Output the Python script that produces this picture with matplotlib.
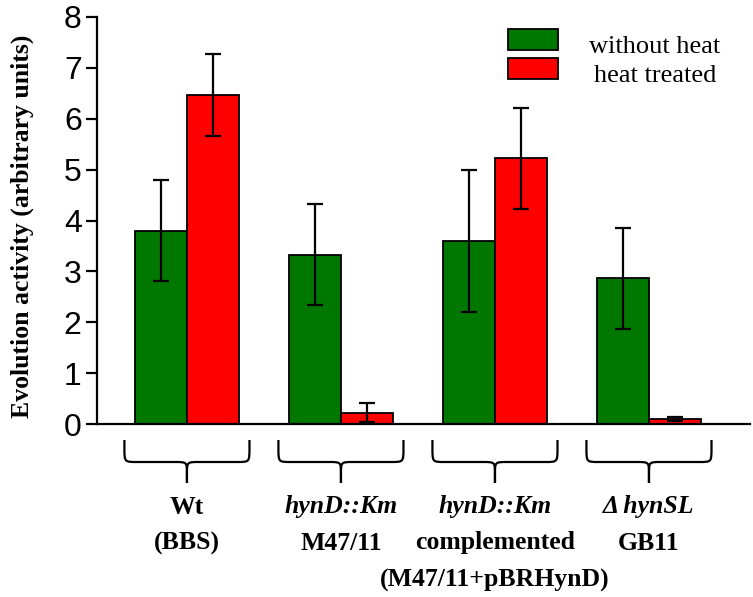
import matplotlib
matplotlib.use("Agg")
import matplotlib.pyplot as plt
from matplotlib.path import Path
from matplotlib.patches import PathPatch, Rectangle
from matplotlib.transforms import blended_transform_factory
import numpy as np

# ---- data ----
groups = ["Wt", "hynD::Km", "hynD::Km compl.", "ΔhynSL"]
label_lines = [
    ["Wt", "(BBS)", None],
    ["hynD::Km", "M47/11", None],
    ["hynD::Km", "complemented", "(M47/11+pBRHynD)"],
    ["Δ hynSL", "GB11", None],
]
italic_first = [False, True, True, True]
without_heat = [3.80, 3.33, 3.60, 2.86]
without_heat_err = [0.99, 0.99, 1.40, 0.99]
heat_treated = [6.47, 0.22, 5.22, 0.10]
heat_treated_err = [0.80, 0.19, 1.00, 0.04]
series_names = ["without heat", "heat treated"]
yticks = [0, 1, 2, 3, 4, 5, 6, 7, 8]
ylabel = "Evolution activity (arbitrary units)"

GREEN = "#007800"
RED = "#ff0000"

W, H = 753, 597
fig = plt.figure(figsize=(W / 100, H / 100), dpi=100)
ax = fig.add_axes([97 / W, 1 - 424 / H, (750 - 97) / W, (424 - 17) / H])

x = np.arange(len(groups))
bw = 0.338
ekw = dict(elinewidth=1.6, capthick=1.6, ecolor="black")
ax.bar(x - bw / 2, without_heat, bw, color=GREEN, edgecolor="black", linewidth=1.3,
       yerr=without_heat_err, capsize=5.5, error_kw=ekw, zorder=2)
ax.bar(x + bw / 2, heat_treated, bw, color=RED, edgecolor="black", linewidth=1.3,
       yerr=heat_treated_err, capsize=5.5, error_kw=ekw, zorder=2)

ax.set_xlim(-0.584, 3.656)
ax.set_ylim(0, 8)
ax.set_yticks(yticks)
ax.set_yticklabels([str(t) for t in yticks], fontfamily="Liberation Sans", fontsize=23)
ax.set_xticks([])
for s in ["top", "right"]:
    ax.spines[s].set_visible(False)
for s in ["left", "bottom"]:
    ax.spines[s].set_linewidth(1.6)
ax.tick_params(axis="y", direction="out", length=8, width=1.6, pad=3)

fig.text(22 / W, 1 - 226 / H, ylabel, rotation=90, ha="center", va="center",
         fontfamily="Liberation Serif", fontweight="bold", fontsize=18.5)

# braces
tr = blended_transform_factory(ax.transData, fig.transFigure)
half = 0.406
rx = 0.08
def fy(px):
    return 1 - px / H
for c in x:
    for sgn in (-1, 1):
        e = c + sgn * half
        verts = [(e, fy(440)), (e, fy(448)),
                 (e, fy(462)), (e, fy(462)), (e - sgn * rx, fy(462)),
                 (c + sgn * rx, fy(462)),
                 (c, fy(462)), (c, fy(462)), (c, fy(474)),
                 (c, fy(483))]
        codes = [Path.MOVETO, Path.LINETO,
                 Path.CURVE4, Path.CURVE4, Path.CURVE4,
                 Path.LINETO,
                 Path.CURVE4, Path.CURVE4, Path.CURVE4,
                 Path.LINETO]
        ax.add_patch(PathPatch(Path(verts, codes), transform=tr, fill=False,
                               lw=1.6, edgecolor="black", clip_on=False,
                               capstyle="butt"))

# group labels
line_y = [507, 543, 580]
for i, lines in enumerate(label_lines):
    for j, t in enumerate(lines):
        if t is None:
            continue
        style = "italic" if (j == 0 and italic_first[i]) else "normal"
        ax.text(x[i], fy(line_y[j]), t, transform=tr, ha="center", va="center",
                fontfamily="Liberation Serif", fontweight="bold", fontstyle=style,
                fontsize=18.5)

# legend (drawn manually to match offsets)
leg_colors = [GREEN, RED]
patch_top = [29, 58]
text_y = [47, 76]
for col, top, ty, name in zip(leg_colors, patch_top, text_y, series_names):
    fig.patches.append(Rectangle((508 / W, fy(top + 21)), 50 / W, 21 / H,
                                 transform=fig.transFigure, facecolor=col,
                                 edgecolor="black", linewidth=1.3))
    fig.text(655 / W, fy(ty), name, ha="center", va="center",
             fontfamily="Liberation Serif", fontsize=19)

fig.savefig("out.png", dpi=100)
